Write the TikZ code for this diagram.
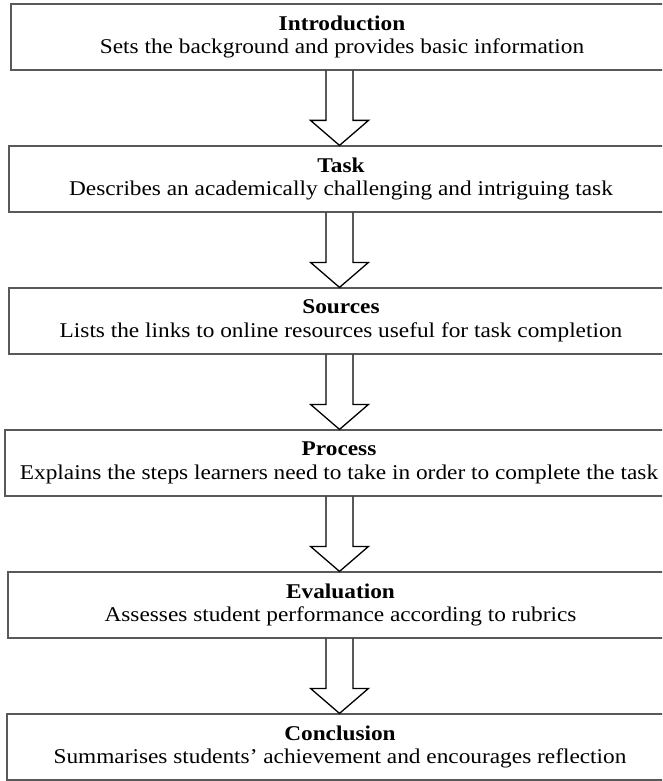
\documentclass[tikz,border=0pt]{standalone}
\usepackage{fontspec}
\setmainfont[FakeStretch=1.11]{Liberation Serif}
\usetikzlibrary{calc}
\tikzset{
    stagebox/.style={draw=black!65, line width=1.2pt, minimum height=66pt, inner sep=0pt, align=center, font=\fontsize{21}{23.5}\selectfont},
    blockarrow/.style={draw=black, line width=1.3pt, line join=miter}
}
\begin{document}
\begin{tikzpicture}[x=1pt,y=-1pt]
    \useasboundingbox (0,0) rectangle (662,781);
    \clip (0,0) rectangle (662,781);
    \coordinate (axis) at (339.5,0);
    \node[stagebox, minimum width=662pt] (intro) at (342,37) {\textbf{Introduction}\\Sets the background and provides basic information};
    \node[stagebox, minimum width=664pt] (task) at (341,179) {\textbf{Task}\\Describes an academically challenging and intriguing task};
    \node[stagebox, minimum width=664pt] (sources) at (341,321) {\textbf{Sources}\\Lists the links to online resources useful for task completion};
    \node[stagebox, minimum width=668pt] (process) at (339,463) {\textbf{Process}\\Explains the steps learners need to take in order to complete the task};
    \node[stagebox, minimum width=665pt] (evaluation) at (340.5,605) {\textbf{Evaluation}\\Assesses student performance according to rubrics};
    \node[stagebox, minimum width=666pt] (conclusion) at (340,747) {\textbf{Conclusion}\\Summarises students' achievement and encourages reflection};
    % hollow block arrows between the stages
    \foreach \a/\b in {intro/task, task/sources, sources/process, process/evaluation, evaluation/conclusion}{
        \draw[blockarrow] ($(\a.south -| axis)+(-13.5,0)$) -- ($(\b.north -| axis)+(-13.5,-25)$)
            -- ($(\b.north -| axis)+(-29,-25)$) -- (\b.north -| axis)
            -- ($(\b.north -| axis)+(29,-25)$) -- ($(\b.north -| axis)+(13.5,-25)$)
            -- ($(\a.south -| axis)+(13.5,0)$);
    }
\end{tikzpicture}
\end{document}
